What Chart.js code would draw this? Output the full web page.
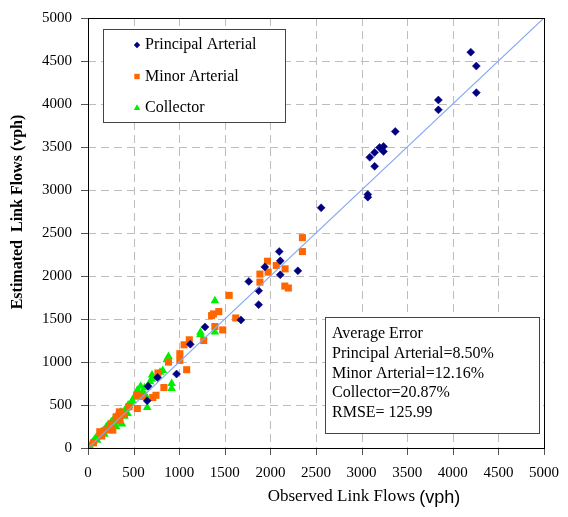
<!DOCTYPE html>
<html>
<head>
<meta charset="utf-8">
<script src="https://cdn.jsdelivr.net/npm/chart.js@4.4.0/dist/chart.umd.min.js"></script>
<style>
  body { margin: 0; background: #fff; }
  canvas { display: block; }
</style>
</head>
<body>
<canvas id="flowChart" width="568" height="517"></canvas>
<script>
// observed (x) vs estimated (y) link flows, vph
var principalX = [4197, 4258, 4258, 3842, 3842, 3369, 3240, 3197, 3240, 3143, 3090, 3143, 3068, 3068, 2556, 2097, 2108, 1939, 2108, 2301, 1763, 1871, 1871, 1677, 1283, 1122, 971, 763, 659, 649]
var principalY = [4603, 4441, 4132, 4047, 3932, 3681, 3507, 3495, 3449, 3437, 3380, 3275, 2948, 2917, 2793, 2284, 2176, 2106, 2014, 2060, 1937, 1829, 1667, 1489, 1408, 1207, 860, 820, 718, 548]

var minorX = [2351, 2351, 1968, 2065, 2161, 1975, 1885, 1885, 2158, 2197, 1548, 1434, 1376, 1355, 1620, 1391, 1477, 1269, 1111, 1054, 1007, 1007, 1082, 882, 767, 832, 745, 710, 534, 541, 344, 308, 272, 129, 200, 400, 450, 600, 150, 60, 250, 350]
var minorY = [2446, 2284, 2172, 2122, 2083, 2045, 2022, 1929, 1883, 1860, 1775, 1586, 1559, 1539, 1512, 1412, 1373, 1250, 1258, 1200, 1096, 1019, 910, 999, 872, 703, 613, 587, 613, 459, 420, 362, 208, 189, 210, 390, 480, 600, 140, 60, 280, 330]

var collectorX = [1391, 1391, 1233, 1233, 882, 864, 702, 917, 917, 649, 649, 631, 577, 541, 434, 373, 308, 487, 452, 416, 362, 308, 255, 201, 147, 93, 39, 20, 60, 120, 170, 230, 280, 330, 400, 470, 520, 600, 680, 750, 820, 560, 100, 180, 250, 320, 400, 700, 790, 510, 620, 440, 350, 290, 210, 140, 80]
var collectorY = [1713, 1350, 1346, 1319, 1065, 1027, 848, 749, 691, 703, 471, 613, 718, 671, 401, 278, 247, 548, 498, 459, 420, 370, 305, 247, 189, 124, 54, 20, 80, 150, 200, 270, 330, 380, 430, 520, 590, 650, 770, 820, 900, 640, 90, 160, 230, 300, 370, 800, 880, 600, 700, 500, 410, 340, 250, 170, 110]

var axisMax = 5000
var axisStep = 500
var lineEnds = [0, 5000]

var legendLabels = ['Principal Arterial', 'Minor Arterial', 'Collector']
var errorLines = ['Average Error', 'Principal Arterial=8.50%', 'Minor Arterial=12.16%', 'Collector=20.87%', 'RMSE= 125.99']

var colors = ['#000080', '#ff6600', '#00ee00']
var styles = ['rectRot', 'rect', 'triangle']

function toPoints(xs, ys) {
  var pts = []
  for (var i = 0; i < xs.length; i++) {
    pts.push({ x: xs[i], y: ys[i] })
  }
  return pts
}

var serif = '"Liberation Serif", "Times New Roman", serif'
var sans = '"Liberation Sans", Arial, sans-serif'

function drawGrid(chart) {
  var ctx = chart.ctx
  var a = chart.chartArea
  var sx = chart.scales.x
  var sy = chart.scales.y
  ctx.lineWidth = 1
  sx.ticks.forEach(function (t) {
    var px = Math.round(sx.getPixelForValue(t.value)) + 0.5
    ctx.strokeStyle = '#bdbdbd'
    ctx.setLineDash([8, 5])
    ctx.beginPath(); ctx.moveTo(px, a.top); ctx.lineTo(px, a.bottom); ctx.stroke()
    ctx.strokeStyle = '#555'
    ctx.setLineDash([])
    ctx.beginPath(); ctx.moveTo(px, a.bottom); ctx.lineTo(px, a.bottom + 7); ctx.stroke()
  })
  sy.ticks.forEach(function (t) {
    var py = Math.round(sy.getPixelForValue(t.value)) + 0.5
    ctx.strokeStyle = '#bdbdbd'
    ctx.setLineDash([8, 5])
    ctx.beginPath(); ctx.moveTo(a.left, py); ctx.lineTo(a.right, py); ctx.stroke()
    ctx.strokeStyle = '#555'
    ctx.setLineDash([])
    ctx.beginPath(); ctx.moveTo(a.left - 7, py); ctx.lineTo(a.left, py); ctx.stroke()
  })
}

var boxesPlugin = {
  id: 'boxes',
  afterDraw: function (chart) {
    var ctx = chart.ctx
    var a = chart.chartArea
    ctx.save()
    // grid goes behind what is already drawn
    ctx.globalCompositeOperation = 'destination-over'
    drawGrid(chart)
    ctx.globalCompositeOperation = 'source-over'
    ctx.setLineDash([])

    // plot frame
    ctx.strokeStyle = '#000'
    ctx.lineWidth = 1
    ctx.strokeRect(Math.round(a.left) + 0.5, Math.round(a.top) + 0.5, Math.round(a.right - a.left), Math.round(a.bottom - a.top))

    // legend box
    ctx.fillStyle = '#fff'
    ctx.fillRect(103, 29, 182, 93)
    ctx.strokeStyle = '#444'
    ctx.strokeRect(103.5, 29.5, 182, 93)
    ctx.font = '16px ' + serif
    ctx.textBaseline = 'middle'
    for (var i = 0; i < legendLabels.length; i++) {
      var ly = 45 + i * 31.5
      ctx.fillStyle = colors[i]
      ctx.strokeStyle = colors[i]
      Chart.helpers.drawPoint(ctx, { pointStyle: styles[i], radius: i == 0 ? 3.2 : 3.8, borderWidth: 0 }, 137, ly)
      ctx.fillStyle = '#000'
      ctx.fillText(legendLabels[i], 145, ly)
    }

    // error box
    ctx.fillStyle = '#fff'
    ctx.fillRect(325, 317, 214, 116)
    ctx.strokeStyle = '#444'
    ctx.strokeRect(325.5, 317.5, 214, 116)
    ctx.fillStyle = '#000'
    for (var j = 0; j < errorLines.length; j++) {
      ctx.fillText(errorLines[j], 332, 334 + j * 19.7)
    }

    // x title: serif part + sans (vph)
    ctx.font = '17px ' + serif
    var part1 = 'Observed Link Flows '
    var w1 = ctx.measureText(part1).width
    ctx.font = '18px ' + sans
    var w2 = ctx.measureText('(vph)').width
    var startX = 364 - (w1 + w2) / 2
    ctx.font = '17px ' + serif
    ctx.fillText(part1, startX, 497)
    ctx.font = '18px ' + sans
    ctx.fillText('(vph)', startX + w1, 498)

    // y title
    ctx.translate(18, 212)
    ctx.rotate(-Math.PI / 2)
    ctx.textAlign = 'center'
    ctx.font = 'bold 16px ' + serif
    ctx.fillText('Estimated  Link Flows (vph)', 0, 0)
    ctx.restore()
  }
}

function axisOptions(fitFn) {
  return {
    type: 'linear',
    min: 0,
    max: axisMax,
    afterFit: fitFn,
    grid: {
      color: 'rgba(0,0,0,0)',
      tickColor: 'rgba(0,0,0,0)',
      tickLength: 7
    },
    border: { display: true, color: '#000', width: 1 },
    ticks: {
      stepSize: axisStep,
      color: '#000',
      padding: 9,
      maxRotation: 0,
      autoSkip: false,
      font: { family: serif, size: 15 },
      callback: function (v) { return String(v) }
    }
  }
}

var myChart = new Chart(document.getElementById('flowChart'), {
  type: 'scatter',
  data: {
    datasets: [{
      label: legendLabels[0],
      data: toPoints(principalX, principalY),
      pointStyle: styles[0],
      pointRadius: 4,
      backgroundColor: colors[0],
      borderColor: colors[0],
      borderWidth: 0.5,
      order: 1
    }, {
      label: legendLabels[1],
      data: toPoints(minorX, minorY),
      pointStyle: styles[1],
      pointRadius: 5,
      backgroundColor: colors[1],
      borderColor: colors[1],
      borderWidth: 0,
      order: 2
    }, {
      label: legendLabels[2],
      data: toPoints(collectorX, collectorY),
      pointStyle: styles[2],
      pointRadius: 5,
      backgroundColor: colors[2],
      borderColor: colors[2],
      borderWidth: 0,
      order: 3
    }, {
      label: '1:1',
      type: 'line',
      data: toPoints(lineEnds, lineEnds),
      borderColor: '#86a8f2',
      borderWidth: 1.2,
      pointRadius: 0,
      fill: false,
      order: 0
    }]
  },
  plugins: [boxesPlugin],
  options: {
    responsive: false,
    animation: false,
    layout: { padding: { top: 16, right: 15, left: 0, bottom: 0 } },
    plugins: {
      legend: { display: false },
      tooltip: { enabled: false }
    },
    scales: {
      x: axisOptions(function (scale) { scale.height = 69 }),
      y: axisOptions(function (scale) { scale.width = 88 })
    }
  }
});
</script>
</body>
</html>
